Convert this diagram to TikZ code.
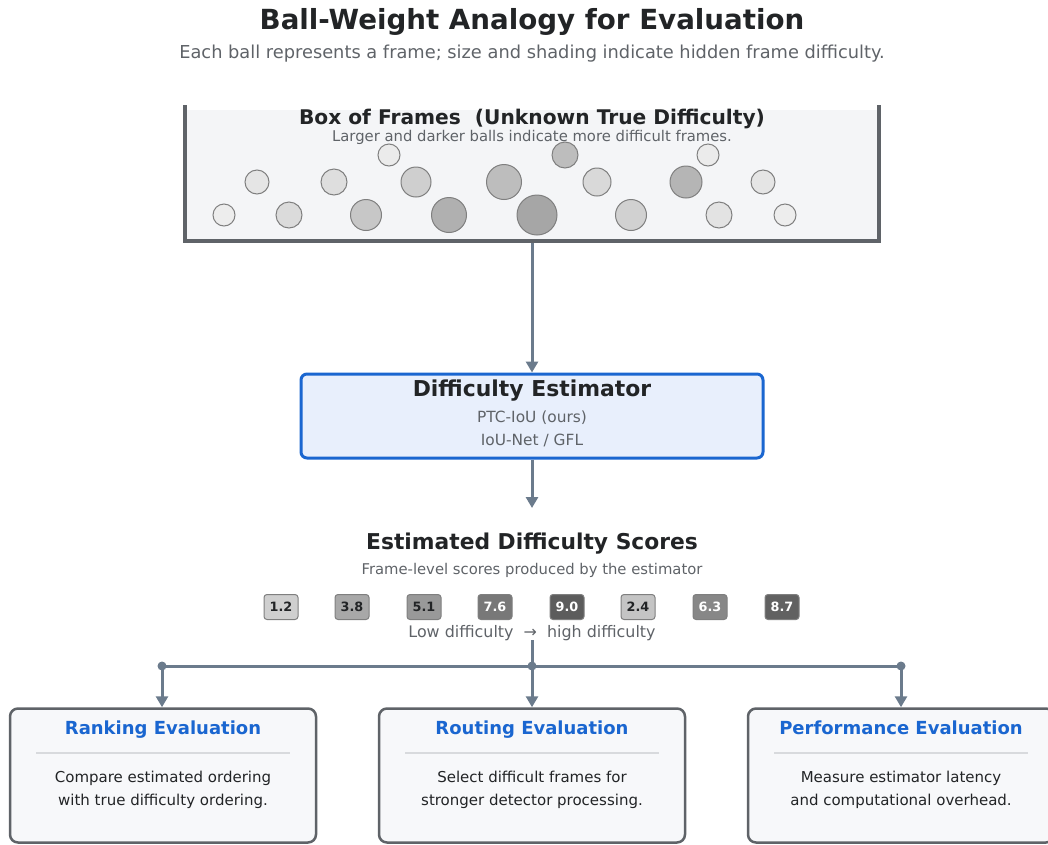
\documentclass[tikz,border=0pt]{standalone}
\usepackage{fontspec}
\setmainfont{DejaVu Sans}
\usetikzlibrary{arrows.meta}
\definecolor{conn}{HTML}{6B7B8C}
\definecolor{dark}{HTML}{222426}
\definecolor{muted}{HTML}{5F6368}
\definecolor{boxline}{HTML}{5F6368}
\definecolor{boxfill}{HTML}{F4F5F7}
\definecolor{estblue}{HTML}{1A66D0}
\definecolor{estfill}{HTML}{E8EFFC}
\definecolor{cardfill}{HTML}{F7F8FA}
\definecolor{sepline}{HTML}{D8DADD}
\definecolor{ballline}{HTML}{7F7F7F}
\newcommand{\fsz}[1]{\fontsize{#1}{#1}\selectfont}
\tikzset{
  ball/.style={circle, draw=ballline, line width=1pt, inner sep=0pt},
  arr/.style={draw=conn, line width=3pt, -{Triangle[length=11pt,width=12pt]}},
  chip/.style={rounded corners=3pt, draw=ballline, line width=1pt, minimum width=34pt, minimum height=25pt, inner sep=0pt, font=\fsz{12.8}\bfseries},
  card/.style={rounded corners=8pt, draw=boxline, line width=2.5pt, fill=cardfill, minimum width=306pt, minimum height=134pt, inner sep=0pt},
  cardtitle/.style={text=estblue, font=\fsz{18}\bfseries, anchor=base},
  cardbody/.style={text=dark, font=\fsz{15}, align=center},
  jdot/.style={circle, fill=conn, inner sep=0pt, minimum size=9pt},
}
\begin{document}
\begin{tikzpicture}[x=1pt,y=-1pt]
\useasboundingbox (0,0) rectangle (1048,844);
\clip (0,0) rectangle (1048,844);
% title
\node[text=dark, font=\fsz{27.7}\bfseries] (title) at (532,21.5) {Ball-Weight Analogy for Evaluation};
\node[text=muted, font=\fsz{17.8}] (subtitle) at (532,54) {Each ball represents a frame; size and shading indicate hidden frame difficulty.};
% box of frames
\fill[boxfill] (185,110) rectangle (879,241);
\draw[boxline, line width=4pt] (185,105) -- (185,241) -- (879,241) -- (879,105);
\coordinate (boxbot) at (532,243);
\node[text=dark, font=\fsz{20.2}\bfseries] (boxtitle) at (532,119) {Box of Frames\ \ (Unknown True Difficulty)};
\node[text=muted, font=\fsz{14.8}] (boxsub) at (532,137) {Larger and darker balls indicate more difficult frames.};
% balls
\node[ball, minimum size=22pt, fill=black!8]  (b1) at (389,155) {};
\node[ball, minimum size=26pt, fill=black!26] (b2) at (565,155) {};
\node[ball, minimum size=22pt, fill=black!8]  (b3) at (708,155) {};
\node[ball, minimum size=24pt, fill=black!10] (b4) at (257,182) {};
\node[ball, minimum size=26pt, fill=black!13] (b5) at (334,182) {};
\node[ball, minimum size=30pt, fill=black!19] (b6) at (416,182) {};
\node[ball, minimum size=35pt, fill=black!26] (b7) at (504,182) {};
\node[ball, minimum size=28pt, fill=black!15] (b8) at (597,182) {};
\node[ball, minimum size=32pt, fill=black!29] (b9) at (686,182) {};
\node[ball, minimum size=24pt, fill=black!10] (b10) at (763,182) {};
\node[ball, minimum size=22pt, fill=black!7]  (b11) at (224,215) {};
\node[ball, minimum size=26pt, fill=black!14] (b12) at (289,215) {};
\node[ball, minimum size=31pt, fill=black!22] (b13) at (366,215) {};
\node[ball, minimum size=35pt, fill=black!31] (b14) at (449,215) {};
\node[ball, minimum size=40pt, fill=black!35] (b15) at (537,215) {};
\node[ball, minimum size=31pt, fill=black!18] (b16) at (631,215) {};
\node[ball, minimum size=26pt, fill=black!11] (b17) at (719,215) {};
\node[ball, minimum size=22pt, fill=black!7]  (b18) at (785,215) {};
% estimator
\node[rounded corners=6pt, draw=estblue, line width=3pt, fill=estfill, minimum width=462pt, minimum height=84pt, inner sep=0pt] (est) at (532,416) {};
\node[text=dark, font=\fsz{21.9}\bfseries] (esttitle) at (532,391) {Difficulty Estimator};
\node[text=muted, font=\fsz{15.4}] (est1) at (532,418) {PTC-IoU (ours)};
\node[text=muted, font=\fsz{15.4}] (est2) at (532,440) {IoU-Net / GFL};
\draw[arr] (boxbot) -- (est.north);
% scores
\coordinate (scorestop) at (532,508);
\draw[arr] (est.south) -- (scorestop);
\node[text=dark, font=\fsz{21.8}\bfseries] (scores) at (532,544) {Estimated Difficulty Scores};
\node[text=muted, font=\fsz{14.8}] (scoressub) at (532,570) {Frame-level scores produced by the estimator};
\node[chip, fill=black!19, text=dark]  (c1) at (281,607) {1.2};
\node[chip, fill=black!34, text=dark]  (c2) at (352,607) {3.8};
\node[chip, fill=black!40, text=dark]  (c3) at (424,607) {5.1};
\node[chip, fill=black!53, text=white] (c4) at (495,607) {7.6};
\node[chip, fill=black!64, text=white] (c5) at (567,607) {9.0};
\node[chip, fill=black!23, text=dark]  (c6) at (638,607) {2.4};
\node[chip, fill=black!47, text=white] (c7) at (710,607) {6.3};
\node[chip, fill=black!62, text=white] (c8) at (782,607) {8.7};
\node[text=muted, font=\fsz{15.9}] (legend) at (532,633) {Low difficulty\ \ →\ \ high difficulty};
% cards
\node[card] (rank) at (163,775.5) {};
\node[card] (route) at (532,775.5) {};
\node[card] (perf) at (901,775.5) {};
\node[cardtitle] (rankt) at (163,734.5) {Ranking Evaluation};
\node[cardtitle] (routet) at (532,734.5) {Routing Evaluation};
\node[cardtitle] (perft) at (901,734.5) {Performance Evaluation};
\foreach \c in {163,532,901}{\draw[sepline, line width=1.5pt] (\c-127,753) -- (\c+127,753);}
\node[cardbody] (rankb) at (163,790) {Compare estimated ordering\\[8pt]with true difficulty ordering.};
\node[cardbody] (routeb) at (532,790) {Select difficult frames for\\[8pt]stronger detector processing.};
\node[cardbody] (perfb) at (901,790) {Measure estimator latency\\[8pt]and computational overhead.};
% junction
\coordinate (jtop) at (532,640);
\node[jdot] (j1) at (162,666) {};
\node[jdot] (j2) at (532,666) {};
\node[jdot] (j3) at (901,666) {};
\draw[conn, line width=3pt] (jtop) -- (j2.center);
\draw[conn, line width=3pt] (j1.center) -- (j3.center);
\draw[arr] (j1.center) -- (j1.center |- rank.north);
\draw[arr] (j2.center) -- (route.north);
\draw[arr] (j3.center) -- (perf.north);
\end{tikzpicture}
\end{document}
